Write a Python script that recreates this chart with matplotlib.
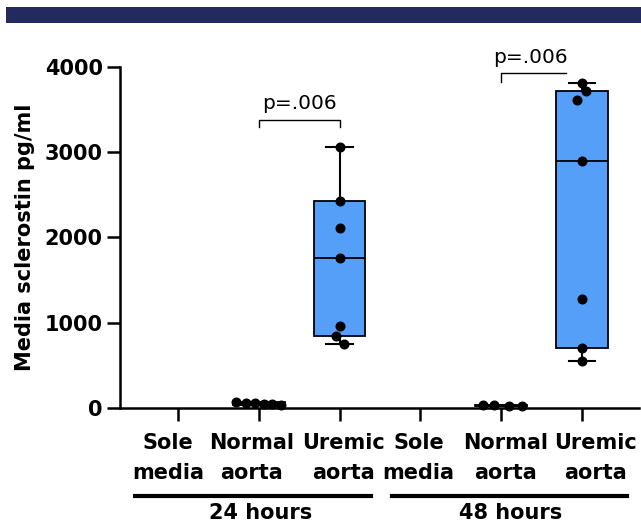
import numpy as np
import matplotlib
matplotlib.use("Agg")
import matplotlib.pyplot as plt
from matplotlib.transforms import blended_transform_factory, ScaledTranslation

plt.rcParams['font.family'] = ['DejaVu Sans']

# ---- data ----
categories = ["Sole\nmedia", "Normal\naorta", "Uremic\naorta",
              "Sole\nmedia", "Normal\naorta", "Uremic\naorta"]
groups = ["24 hours", "48 hours"]
sole_24 = []
normal_24 = [75, 62, 55, 48, 42, 38]
uremic_24 = [3060, 2430, 2115, 1760, 962, 845, 751]
sole_48 = []
normal_48 = [32, 30, 27, 22]
uremic_48 = [3808, 3718, 3613, 2900, 1275, 700, 551]
series = [sole_24, normal_24, uremic_24, sole_48, normal_48, uremic_48]
pvalues = ["p=.006", "p=.006"]
yticks = [0, 1000, 2000, 3000, 4000]

# horizontal jitter of points (style only)
jitter = [
    [],
    [-0.28, -0.16, -0.05, 0.06, 0.16, 0.27],
    [0, 0, 0, 0, 0, -0.05, 0.06],
    [],
    [-0.22, -0.09, 0.09, 0.26],
    [0, 0.05, -0.06, 0, 0, 0, 0],
]
# horizontal nudges of category labels in pixels (style only)
label_nudge = [-10, -7, 4, -2, 4, 13]

W, H = 641, 526
fig = plt.figure(figsize=(W / 100, H / 100), dpi=100)
ax = fig.add_axes([120 / W, 1 - 408 / H, (639 - 120) / W, (408 - 67) / H])

# banner
fig.add_artist(plt.Rectangle((6 / W, 1 - 23 / H), 1, 16 / H,
                             transform=fig.transFigure, color="#232A5E", lw=0))

box_color = "#559FF9"
for i, vals in enumerate(series):
    if len(vals) == 0:
        continue
    v = np.array(vals, dtype=float)
    q1 = np.percentile(v, 25, method="weibull")
    q3 = np.percentile(v, 75, method="weibull")
    med = np.median(v)
    stats = [dict(med=med, q1=q1, q3=q3, whislo=v.min(), whishi=v.max(), fliers=[])]
    ax.bxp(stats, positions=[i], widths=0.64, patch_artist=True,
           boxprops=dict(facecolor=box_color, edgecolor="black", linewidth=1.3),
           medianprops=dict(color="black", linewidth=1.3),
           whiskerprops=dict(color="black", linewidth=1.5),
           capprops=dict(color="black", linewidth=1.5), capwidths=0.33,
           showfliers=False, zorder=2)
    ax.plot(i + np.array(jitter[i]), v, "o", color="black", ms=6.2, zorder=3,
            clip_on=False)

ax.set_xlim(-0.718, 5.705)
ax.set_ylim(0, 4000)
ax.set_yticks(yticks)
ax.set_yticklabels([str(t) for t in yticks], fontweight="bold", fontsize=15)
ax.set_xticks(range(len(categories)))
ax.set_xticklabels([])
ax.tick_params(axis="both", length=9.5, width=1.8, color="black")
ax.tick_params(axis="y", pad=3)
for s in ["top", "right"]:
    ax.spines[s].set_visible(False)
for s in ["left", "bottom"]:
    ax.spines[s].set_linewidth(1.8)

ax.set_ylabel("Media sclerostin pg/ml", fontweight="bold", fontsize=15, labelpad=7)

tr = blended_transform_factory(ax.transData, fig.transFigure)

# category labels
for i, (lab, dx) in enumerate(zip(categories, label_nudge)):
    ax.text(i, 1 - 433 / H, lab, ha="center", va="top", fontsize=15,
            fontweight="bold", linespacing=1.6,
            transform=tr + ScaledTranslation(dx / 100, 0, fig.dpi_scale_trans))

# significance brackets
ax.plot([1, 1, 2, 2], [3296, 3378, 3378, 3296], color="black", lw=1, clip_on=False)
ax.text(1.5, 3460, pvalues[0], ha="center", va="bottom", fontsize=14.5)
ax.plot([4, 4, 4.8], [3828, 3926, 3926], color="black", lw=1, clip_on=False)
ax.text(4.36, 4000, pvalues[1], ha="center", va="bottom", fontsize=14.5)

# group lines and labels
ly = 1 - 496 / H
ax.plot([-0.53, 2.39], [ly, ly], color="black", lw=3, transform=tr, clip_on=False)
ax.plot([2.65, 5.56], [ly, ly], color="black", lw=3, transform=tr, clip_on=False)
ax.text(1.02, 1 - 513 / H, groups[0], ha="center", va="center", fontsize=15,
        fontweight="bold", transform=tr)
ax.text(4.12, 1 - 513 / H, groups[1], ha="center", va="center", fontsize=15,
        fontweight="bold", transform=tr)

fig.savefig("out.png", dpi=100)
